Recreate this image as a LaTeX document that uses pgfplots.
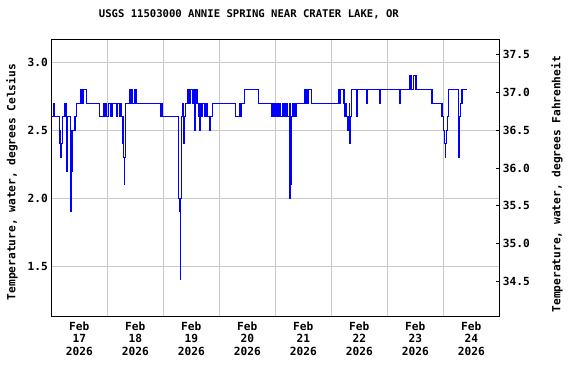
\documentclass[border=0pt]{standalone}
\usepackage{fontspec}
\setmainfont{DejaVu Sans Mono}
\usepackage{pgfplots}
\pgfplotsset{compat=1.18}
\definecolor{gridgray}{RGB}{200,200,200}
\definecolor{usgsblue}{RGB}{0,0,255}
\newcommand{\chfont}{\bfseries\fontsize{11.2}{12.8}\selectfont}
\newcommand{\titlefont}{\bfseries\fontsize{10.6}{12.8}\selectfont}
\begin{document}
\begin{tikzpicture}
\useasboundingbox (0pt,0pt) rectangle (576pt,384pt);
\begin{axis}[
  at={(51.3pt,68pt)}, anchor=south west,
  scale only axis, width=448pt, height=276.7pt,
  xmin=0, xmax=8, ymin=1.1346, ymax=3.169,
  axis line style={black, line width=1pt},
  xtick={0.5,1.5,2.5,3.5,4.5,5.5,6.5,7.5},
  xticklabels={{Feb\\17\\2026},{Feb\\18\\2026},{Feb\\19\\2026},{Feb\\20\\2026},{Feb\\21\\2026},{Feb\\22\\2026},{Feb\\23\\2026},{Feb\\24\\2026}},
  minor xtick={1,2,3,4,5,6,7},
  xmajorgrids=false, xminorgrids=true, ymajorgrids=true,
  grid style={gridgray, line width=1pt},
  minor grid style={gridgray, line width=1pt},
  ytick={1.5,2.0,2.5,3.0},
  xtick pos=bottom, ytick pos=left,
  major tick length=0pt, minor tick length=0pt,
  xticklabel style={align=center, font=\chfont, yshift=-2pt},
  yticklabel style={font=\chfont},
  /pgf/number format/.cd, fixed, fixed zerofill, precision=1, assume math mode=true,
  /pgfplots/.cd,
  title={USGS 11503000 ANNIE SPRING NEAR CRATER LAKE, OR},
  title style={at={(axis description cs:0.441,1.07)}, anchor=center, font=\titlefont},
  ylabel={Temperature, water, degrees Celsius},
  ylabel style={at={(axis description cs:-0.0877,0.484)}, anchor=center, rotate=0, font=\chfont},
  clip=true,
]
\addplot[const plot, draw=usgsblue, line width=1.1pt, line join=miter, line cap=rect] coordinates {
(0.000,2.6) (0.036,2.7) (0.061,2.6) (0.143,2.5) (0.155,2.4) (0.173,2.3) (0.182,2.4)
(0.196,2.6) (0.245,2.7) (0.271,2.4) (0.280,2.2) (0.289,2.6) (0.339,2.5) (0.352,1.9)
(0.364,2.2) (0.375,2.5) (0.423,2.6) (0.454,2.7) (0.530,2.8) (0.543,2.7) (0.554,2.8)
(0.566,2.7) (0.579,2.8) (0.632,2.7) (0.857,2.6) (0.929,2.7) (0.946,2.6) (0.959,2.7)
(0.989,2.6) (1.025,2.7) (1.066,2.6) (1.096,2.7) (1.168,2.6) (1.186,2.7) (1.221,2.6)
(1.232,2.7) (1.245,2.6) (1.280,2.4) (1.293,2.3) (1.304,2.1) (1.312,2.3) (1.321,2.7)
(1.405,2.8) (1.429,2.7) (1.438,2.8) (1.446,2.7) (1.495,2.8) (1.525,2.7) (1.954,2.6)
(1.965,2.7) (1.982,2.6) (2.268,2.0) (2.286,1.9) (2.304,1.4) (2.312,2.0) (2.321,2.6)
(2.339,2.7) (2.357,2.5) (2.370,2.4) (2.379,2.6) (2.393,2.7) (2.436,2.8) (2.446,2.7)
(2.454,2.8) (2.477,2.7) (2.489,2.8) (2.518,2.7) (2.530,2.8) (2.566,2.5) (2.575,2.7)
(2.589,2.8) (2.607,2.7) (2.625,2.6) (2.638,2.7) (2.655,2.5) (2.664,2.7) (2.691,2.6)
(2.704,2.7) (2.745,2.6) (2.763,2.7) (2.780,2.6) (2.829,2.5) (2.843,2.6) (2.875,2.7)
(3.286,2.6) (3.370,2.7) (3.379,2.6) (3.388,2.7) (3.446,2.8) (3.696,2.7) (3.941,2.6)
(3.954,2.7) (3.964,2.6) (3.982,2.7) (3.995,2.6) (4.013,2.7) (4.025,2.6) (4.048,2.7)
(4.066,2.6) (4.084,2.7) (4.096,2.6) (4.125,2.7) (4.138,2.6) (4.168,2.7) (4.179,2.6)
(4.209,2.7) (4.221,2.6) (4.257,2.7) (4.263,2.0) (4.275,2.1) (4.286,2.6) (4.304,2.7)
(4.316,2.6) (4.352,2.7) (4.364,2.6) (4.375,2.7) (4.530,2.8) (4.566,2.7) (4.589,2.8)
(4.643,2.7) (5.125,2.8) (5.143,2.7) (5.161,2.8) (5.227,2.7) (5.239,2.6) (5.257,2.7)
(5.268,2.6) (5.298,2.5) (5.311,2.6) (5.321,2.7) (5.329,2.4) (5.346,2.6) (5.357,2.8)
(5.446,2.6) (5.458,2.8) (5.637,2.7) (5.650,2.8) (5.857,2.7) (5.870,2.8) (6.227,2.7)
(6.239,2.8) (6.405,2.9) (6.429,2.8) (6.464,2.9) (6.513,2.8) (6.798,2.7) (6.977,2.6)
(7.007,2.5) (7.025,2.4) (7.036,2.3) (7.045,2.4) (7.061,2.5) (7.079,2.6) (7.096,2.8)
(7.268,2.6) (7.280,2.3) (7.289,2.6) (7.304,2.7) (7.321,2.8) (7.334,2.7) (7.346,2.8)
(7.418,2.8)
};
\node[text=red, font=\chfont, anchor=center] at (axis description cs:0.497,-0.213)
  {-{}-{}-{}- Provisional Data Subject to Revision -{}-{}-{}-};
\end{axis}
\begin{axis}[
  at={(51.3pt,68pt)}, anchor=south west,
  scale only axis, width=448pt, height=276.7pt,
  xmin=0, xmax=8, ymin=34.042, ymax=37.704,
  hide x axis,
  axis y line*=right,
  axis line style={black, line width=1pt},
  ytick={34.5,35.0,35.5,36.0,36.5,37.0,37.5},
  tick align=inside, major tick length=3pt,
  tick style={black, line width=1pt},
  yticklabel style={font=\chfont},
  /pgf/number format/.cd, fixed, fixed zerofill, precision=1, assume math mode=true,
  /pgfplots/.cd,
  ylabel={Temperature, water, degrees Fahrenheit},
  ylabel style={at={(axis description cs:1.1288,0.4765)}, anchor=center, rotate=0, font=\chfont},
]
\end{axis}
\end{tikzpicture}
\end{document}
